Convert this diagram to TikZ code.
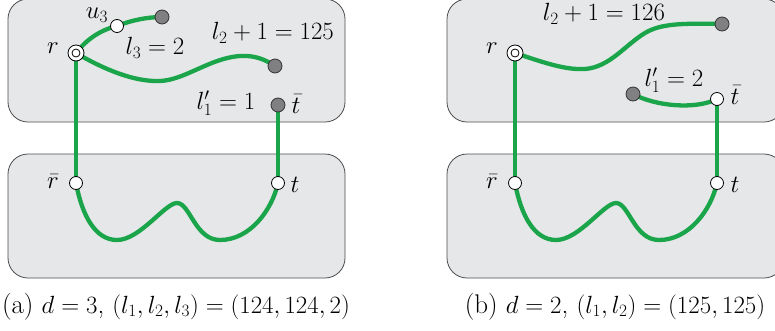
\documentclass[tikz,border=0pt]{standalone}
\usetikzlibrary{backgrounds}
\definecolor{pathgreen}{RGB}{27,165,75}
\definecolor{boxgray}{RGB}{230,231,233}
\definecolor{dotgray}{RGB}{128,128,130}
\pgfdeclarelayer{back}
\pgfdeclarelayer{mid}
\pgfsetlayers{back,mid,main}
\tikzset{
  panel/.style={draw=black!70, fill=boxgray, rounded corners=20pt, line width=0.8pt},
  route/.style={draw=pathgreen, line width=4.3pt},
  wdot/.style={circle, draw=black, fill=white, minimum size=13pt, inner sep=0pt, line width=0.8pt},
  gdot/.style={circle, draw=black!80, fill=dotgray, minimum size=14pt, inner sep=0pt, line width=0.8pt},
  rootdot/.style={circle, draw=black, fill=white, minimum size=16pt, inner sep=0pt, line width=0.8pt,
     path picture={\draw[line width=0.8pt] (path picture bounding box.center) circle (4pt);}},
  lab/.style={inner sep=0pt, font=\fontsize{24}{28}\selectfont},
  capt/.style={inner sep=0pt, anchor=base, font=\fontsize{27}{31}\selectfont}
}
\begin{document}
\begin{tikzpicture}[x=1pt,y=-1pt]
\useasboundingbox (0,0) rectangle (775,330);
% ---------- panel (a) ----------
\begin{pgfonlayer}{back}
\draw[panel] (8,-1) rectangle (345,122);
\draw[panel] (8,154) rectangle (345,278);
\draw[panel] (447,-1) rectangle (784,122);
\draw[panel] (447,154) rectangle (784,278);
\end{pgfonlayer}
\node[rootdot] (ar) at (76,53) {};
\node[wdot] (au) at (117,26) {};
\node[gdot] (ag3) at (162,17) {};
\node[gdot] (ag2) at (275,66) {};
\node[gdot] (atb) at (278,105) {};
\node[wdot] (arb) at (76,183) {};
\node[wdot] (at) at (278,183) {};
\begin{pgfonlayer}{mid}
\draw[route] (ar.center) .. controls (86,40) and (100,30) .. (au.center);
\draw[route] (au.center) .. controls (132,20) and (148,17) .. (ag3.center);
\draw[route] (ar.center) .. controls (105,70) and (135,82) .. (160,81)
   .. controls (185,80) and (210,58) .. (240,56) .. controls (255,55) and (266,60) .. (ag2.center);
\draw[route] (ar.center) -- (arb.center);
\draw[route] (atb.center) -- (at.center);
\draw[route] (arb.center) .. controls (82,215) and (95,240) .. (117,240)
   .. controls (140,240) and (165,203) .. (177,203)
   .. controls (190,203) and (195,240) .. (220,240)
   .. controls (250,240) and (272,210) .. (at.center);
\end{pgfonlayer}
\node[lab] (lu) at (97,15) {$u_3$};
\node[lab] (lr) at (53,48) {$r$};
\node[lab] (l3) at (155,48) {$l_3=2$};
\node[lab] (l2) at (273,33) {$l_2+1=125$};
\node[lab] (l1) at (226,103) {$l'_1=1$};
\node[lab] (ltb) at (296,104) {$\bar t$};
\node[lab] (lrb) at (53,182) {$\bar r$};
\node[lab] (lt) at (295,185) {$t$};
\node[capt] (capa) at (176,313) {(a) $d=3$, $(l_1,l_2,l_3)=(124,124,2)$};
% ---------- panel (b) ----------
\node[rootdot] (br) at (515,53) {};
\node[gdot] (bg2) at (722,24) {};
\node[gdot] (bg1) at (633,94) {};
\node[wdot] (btb) at (717,99) {};
\node[wdot] (brb) at (515,183) {};
\node[wdot] (bt) at (717,183) {};
\begin{pgfonlayer}{mid}
\draw[route] (br.center) .. controls (545,63) and (565,70) .. (585,69)
   .. controls (610,67) and (625,45) .. (645,33) .. controls (660,24) and (680,23) .. (bg2.center);
\draw[route] (bg1.center) .. controls (655,106) and (695,110) .. (btb.center);
\draw[route] (br.center) -- (brb.center);
\draw[route] (btb.center) -- (bt.center);
\draw[route] (brb.center) .. controls (521,215) and (534,240) .. (556,240)
   .. controls (579,240) and (604,203) .. (616,203)
   .. controls (629,203) and (634,240) .. (659,240)
   .. controls (689,240) and (711,210) .. (bt.center);
\end{pgfonlayer}
\node[lab] (mr) at (492,48) {$r$};
\node[lab] (m2) at (604,14) {$l_2+1=126$};
\node[lab] (m1) at (674,80) {$l'_1=2$};
\node[lab] (mtb) at (735,95) {$\bar t$};
\node[lab] (mrb) at (492,182) {$\bar r$};
\node[lab] (mt) at (735,185) {$t$};
\node[capt] (capb) at (615,313) {(b) $d=2$, $(l_1,l_2)=(125,125)$};
\end{tikzpicture}
\end{document}
